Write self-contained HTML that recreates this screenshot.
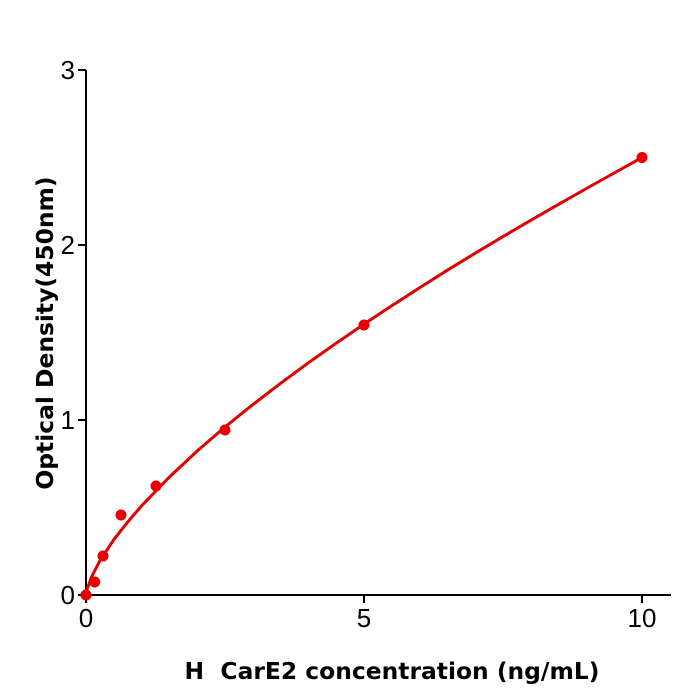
<!DOCTYPE html>
<html><head><meta charset="utf-8"><style>body{margin:0;background:#fff}svg{display:block}</style></head>
<body>
<svg width="700" height="700" viewBox="0 0 700 700" xmlns="http://www.w3.org/2000/svg" font-family="'DejaVu Sans','Liberation Sans',sans-serif">
<g stroke="#000" stroke-width="2" fill="none">
<line x1="86" y1="70" x2="86" y2="596"/>
<line x1="85" y1="595" x2="671" y2="595"/>
<line x1="78" y1="595" x2="86" y2="595"/>
<line x1="78" y1="420" x2="86" y2="420"/>
<line x1="78" y1="245" x2="86" y2="245"/>
<line x1="78" y1="70" x2="86" y2="70"/>
<line x1="86" y1="595" x2="86" y2="603"/>
<line x1="364" y1="595" x2="364" y2="603"/>
<line x1="642" y1="595" x2="642" y2="603"/>
</g>
<g font-size="26" fill="#000" font-family="'Liberation Sans',sans-serif">
<text x="75" y="604" text-anchor="end">0</text>
<text x="75" y="429" text-anchor="end">1</text>
<text x="75" y="254" text-anchor="end">2</text>
<text x="75" y="79" text-anchor="end">3</text>
<text x="86" y="627" text-anchor="middle">0</text>
<text x="364" y="627" text-anchor="middle">5</text>
<text x="642" y="627" text-anchor="middle">10</text>
</g>
<text x="392" y="679" font-size="23.4" font-weight="bold" text-anchor="middle" xml:space="preserve">H  CarE2 concentration (ng/mL)</text>
<text transform="translate(53,333) rotate(-90)" font-size="23.4" font-weight="bold" text-anchor="middle">Optical Density(450nm)</text>
<path d="M86,595 L86.3,592.7 L87.1,589 L91.6,576.8 L99.9,560.7 L113.8,539.7 L127.7,522 L141.6,505.8 L169.4,477 L197.2,451 L225,427 L252.8,404.6 L280.6,383.3 L308.4,362.8 L336.2,343.2 L364,324.1 L391.8,305.7 L419.6,287.7 L447.4,270.2 L475.2,253.2 L503,236.6 L530.8,220.3 L558.6,204.3 L586.4,188.5 L614.2,173 L642,157.5" fill="none" stroke="#e00000" stroke-width="3" stroke-linejoin="round"/>
<g fill="#e80000">
<circle cx="86" cy="595" r="5.5"/>
<circle cx="94.7" cy="582" r="5.5"/>
<circle cx="103" cy="556" r="5.5"/>
<circle cx="121" cy="515" r="5.5"/>
<circle cx="156" cy="486" r="5.5"/>
<circle cx="225" cy="430" r="5.5"/>
<circle cx="364" cy="325" r="5.5"/>
<circle cx="642" cy="157.5" r="5.5"/>
</g>
</svg>
</body></html>
